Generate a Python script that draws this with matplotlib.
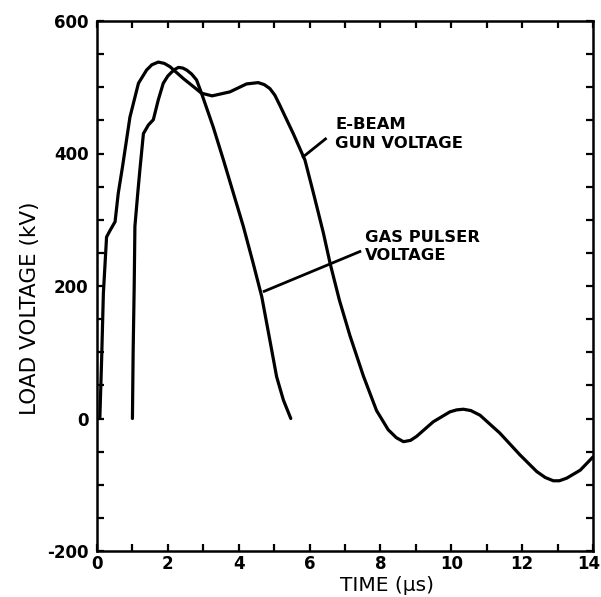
import matplotlib
matplotlib.use("Agg")
import matplotlib.pyplot as plt
import matplotlib.transforms as mtransforms
from matplotlib.ticker import MultipleLocator

plt.rcParams['axes.unicode_minus'] = False

# E-beam gun voltage (kV) vs time (us)
ebeam_t = [0.08, 0.13, 0.18, 0.27, 0.37, 0.51, 0.60, 0.72, 0.93, 1.17, 1.40, 1.55, 1.73,
           1.90, 2.06, 2.25, 2.44, 2.72, 2.95, 3.25, 3.75, 4.22, 4.55, 4.72, 4.88, 5.02, 5.15,
           5.54, 5.87, 6.11, 6.39, 6.58, 6.84, 7.14, 7.52, 7.89, 8.22, 8.45, 8.65, 8.85,
           9.02, 9.49, 9.96, 10.15, 10.34, 10.55, 10.81, 11.37, 11.94, 12.41, 12.65,
           12.88, 13.05, 13.26, 13.64, 14.0]
ebeam_v = [0, 88, 189, 274, 284, 297, 340, 380, 455, 506, 526, 534, 538,
           536, 531, 522, 513, 501, 491, 487, 493, 505, 507, 504, 498, 488, 474,
           430, 390, 340, 280, 234, 179, 125, 64, 12, -17, -29, -35, -33,
           -27, -5, 10, 13, 14, 12, 5, -22, -55, -80, -89,
           -94, -94, -90, -78, -58]

# Gas pulser voltage (kV) vs time (us)
gas_t = [1.00, 1.02, 1.05, 1.07, 1.15, 1.21, 1.31, 1.45, 1.59, 1.73, 1.87, 2.00, 2.11,
         2.20, 2.30, 2.42, 2.53, 2.67, 2.81, 2.95, 3.28, 3.57, 3.85, 4.13, 4.40, 4.65,
         4.88, 5.07, 5.26, 5.47]
gas_v = [0, 100, 200, 290, 340, 375, 430, 443, 451, 481, 506, 517, 523,
         527, 530, 529, 526, 520, 511, 491, 440, 390, 340, 290, 236, 184,
         118, 63, 28, 0]

xticks = [0, 2, 4, 6, 8, 10, 12, 14]
yticks = [-200, 0, 200, 400, 600]

fig = plt.figure(figsize=(6.01, 5.97), dpi=100)
ax = fig.add_axes([97/601, 1-551/597, (593-97)/601, (551-21)/597])

lw = 2.3
ax.plot(ebeam_t, ebeam_v, color='black', lw=lw, solid_joinstyle='round', solid_capstyle='round')
ax.plot(gas_t, gas_v, color='black', lw=lw, solid_joinstyle='round', solid_capstyle='round')

# pointer lines
ax.plot([5.82, 6.45], [395, 422], color='black', lw=2.0)
ax.plot([4.72, 7.42], [192, 252], color='black', lw=2.0)

tfont = dict(fontsize=11.8, fontweight='bold', family='DejaVu Sans')
ax.text(6.72, 455, 'E-BEAM', va='top', ha='left', **tfont)
ax.text(6.72, 426, 'GUN VOLTAGE', va='top', ha='left', **tfont)
ax.text(7.56, 284, 'GAS PULSER', va='top', ha='left', **tfont)
ax.text(7.56, 257, 'VOLTAGE', va='top', ha='left', **tfont)

ax.set_xlim(0, 14)
ax.set_ylim(-200, 600)
ax.set_xticks(xticks)
ax.set_yticks(yticks)
ax.xaxis.set_minor_locator(MultipleLocator(1))
ax.yaxis.set_minor_locator(MultipleLocator(50))
ax.tick_params(which='both', direction='in', top=True, right=True, length=5, width=1.6)
ax.tick_params(axis='y', pad=6)
ax.tick_params(axis='x', pad=3)
for lab in ax.get_xticklabels() + ax.get_yticklabels():
    lab.set_fontweight('bold')
    lab.set_fontsize(12)
last = ax.get_xticklabels()[-1]
last.set_horizontalalignment('right')
last.set_transform(last.get_transform() + mtransforms.ScaledTranslation(7/100, 0, fig.dpi_scale_trans))
for s in ax.spines.values():
    s.set_linewidth(1.8)

fig.text(30/601, 1-308/597, 'LOAD VOLTAGE (kV)', rotation=90, ha='center', va='center',
         fontsize=15.5, family='DejaVu Sans')
fig.text(387/601, 2/597, 'TIME (\u00b5s)', ha='center', va='bottom',
         fontsize=14.5, family='DejaVu Sans')

fig.savefig('out.png', dpi=100)
